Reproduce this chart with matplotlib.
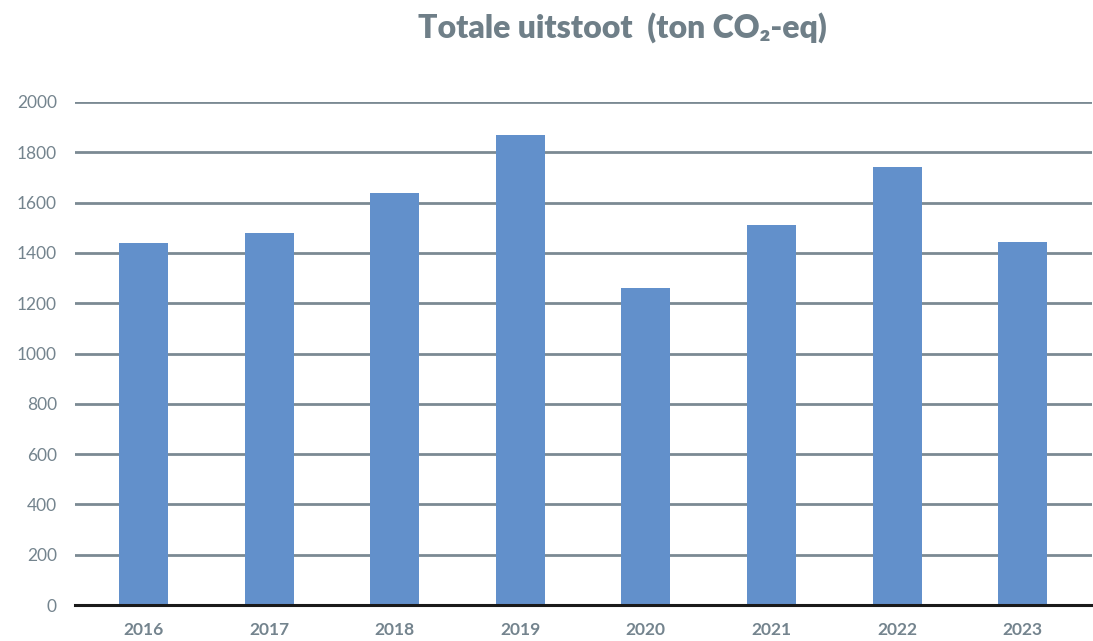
import matplotlib.pyplot as plt
import numpy as np

# Data
years = ['2016', '2017', '2018', '2019', '2020', '2021', '2022', '2023']
uitstoot = [1440, 1480, 1640, 1870, 1260, 1510, 1740, 1445]
yticks = [0, 200, 400, 600, 800, 1000, 1200, 1400, 1600, 1800, 2000]

grey = '#74848e'
bar_color = '#6290cb'

plt.rcParams['font.family'] = ['Lato', 'DejaVu Sans']

fig = plt.figure(figsize=(10.93, 6.41), dpi=100)
ax = fig.add_axes([75/1093, 36/641, 1017/1093, 503/641])

x = np.arange(len(years))
ax.bar(x, uitstoot, width=0.39, color=bar_color, zorder=3)

ax.set_xlim(-0.545, 7.552)
ax.set_ylim(0, 2000)
ax.set_yticks(yticks)
ax.set_yticklabels([str(t) for t in yticks], color=grey, fontsize=12.5)
ax.set_xticks(x)
ax.set_xticklabels(years, color=grey, fontsize=12.5, fontweight='bold')
ax.tick_params(axis='both', length=0)
ax.tick_params(axis='y', pad=13)
ax.tick_params(axis='x', pad=12)

ax.grid(axis='y', color='#7b8a93', linewidth=2, zorder=1)
for s in ['top', 'right', 'left']:
    ax.spines[s].set_visible(False)
ax.spines['bottom'].set_color('#1a1a1a')
ax.spines['bottom'].set_linewidth(2.2)
ax.spines['bottom'].set_zorder(4)

fig.text(622/1093, 1 - 28/641, 'Totale uitstoot  (ton CO\u2082-eq)', ha='center', va='center',
         fontsize=23, fontweight='heavy', color='#6f7f88')

plt.savefig('out.png', dpi=100)
